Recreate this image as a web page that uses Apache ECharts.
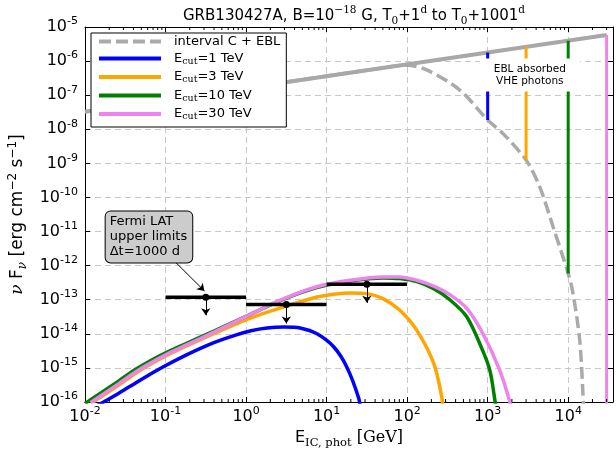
<!DOCTYPE html>
<html>
<head>
<meta charset="utf-8">
<script src="https://cdn.jsdelivr.net/npm/echarts@6/dist/echarts.min.js"></script>
<style>
html, body { margin: 0; padding: 0; background: #fff; }
#chart { width: 616px; height: 449px; }
</style>
</head>
<body>
<div id="chart"></div>
<script>
// intrinsic spectrum (no EBL), grey solid
var intrinsicE = [0.01, 30000];
var intrinsicF = [3.26e-8, 5.83e-6];

// interval C + EBL, grey dashed
var eblE = [0.01, 1, 50, 100, 175, 452, 1000, 1585, 3000, 4436, 6486, 10000, 11482, 13900, 15240, 15600];
var eblF = [3.26e-8, 1.62e-7, 6.3e-7, 7.6e-7, 5.5e-7, 1.41e-7, 1.86e-8, 7.1e-9, 1.245e-9, 2.04e-10, 1.38e-11, 5.9e-13, 1.51e-13, 6.5e-15, 1.78e-16, 5e-17];

// cascade spectra for each cut-off energy
var blueE = [0.0141, 0.0263, 0.0425, 0.0684, 0.102, 0.177, 0.398, 0.708, 1.15, 1.82, 2.95, 4.68, 7.59, 12.3, 17.8, 25.1, 26.3];
var blueF = [7.8e-17, 1.82e-16, 3.63e-16, 7.1e-16, 1.2e-15, 2.34e-15, 5.5e-15, 8.9e-15, 1.23e-14, 1.48e-14, 1.58e-14, 1.48e-14, 1.0e-14, 4.1e-15, 1.07e-15, 1.26e-16, 5e-17];

var orangeE = [0.0126, 0.0263, 0.0425, 0.0684, 0.102, 0.177, 0.398, 1.15, 2.95, 7.59, 12.3, 19.5, 31.6, 50.1, 81.3, 132, 214, 269, 282];
var orangeF = [1e-16, 3.16e-16, 7.0e-16, 1.38e-15, 2.29e-15, 4.27e-15, 1.02e-14, 2.95e-14, 6.17e-14, 1.2e-13, 1.45e-13, 1.58e-13, 1.51e-13, 1.08e-13, 4.9e-14, 1.26e-14, 1.35e-15, 1.41e-16, 5e-17];

var greenE = [0.01, 0.0263, 0.0425, 0.0684, 0.102, 0.177, 0.398, 1.15, 2.95, 7.59, 19.5, 50.1, 81.3, 132, 214, 339, 550, 871, 1072, 1230, 1290];
var greenF = [9.1e-17, 4.17e-16, 9.1e-16, 1.74e-15, 2.82e-15, 5.1e-15, 1.2e-14, 3.8e-14, 1.05e-13, 2.29e-13, 3.55e-13, 4.37e-13, 4.17e-13, 3.39e-13, 2.09e-13, 1.0e-13, 3.16e-14, 3.16e-15, 7.9e-16, 1.12e-16, 5e-17];

var violetE = [0.0117, 0.0263, 0.0425, 0.0684, 0.102, 0.177, 0.398, 1.15, 2.95, 7.59, 19.5, 50.1, 81.3, 132, 214, 339, 550, 871, 1413, 1862, 2000];
var violetF = [9.5e-17, 3.47e-16, 7.6e-16, 1.48e-15, 2.45e-15, 4.57e-15, 1.12e-14, 3.8e-14, 1.07e-13, 2.4e-13, 3.72e-13, 4.68e-13, 4.68e-13, 3.72e-13, 2.5e-13, 1.41e-13, 5.6e-14, 1.02e-14, 8.5e-16, 1.12e-16, 5e-17];

// EBL absorbed parts at each cut-off
var cutE = [1000, 3000, 10000, 30000];
var cutTop = [1.79e-6, 2.61e-6, 3.98e-6, 5.83e-6];
var cutBottom = [1.86e-8, 1.245e-9, 5.9e-13, 1e-17];

// Fermi LAT upper limits
var ulE = [0.316, 3.16, 31.6];
var ulLo = [0.1, 1, 10];
var ulHi = [1, 10, 100];
var ulF = [1.18e-13, 7.2e-14, 2.85e-13];
var ulArrow = [3.5e-14, 2.0e-14, 8.1e-14];

// annotations
var fermiText = [0.01805, 6.97e-12];
var fermiArrow = [[0.133, 1.26e-12], [0.304, 1.81e-13]];
var eblText = [3340, 3.9e-7];

var curveNames = ['Ecut=1 TeV', 'Ecut=3 TeV', 'Ecut=10 TeV', 'Ecut=30 TeV'];
var curveColors = ['#0000ff', '#ffa500', '#008000', '#ee82ee'];

// axis range
var xMin = 0.01, xMax = 36000, yMin = 1e-16, yMax = 1e-5;

function zip(a, b) {
    var out = [];
    for (var i = 0; i < a.length; i++) out.push([a[i], b[i]]);
    return out;
}

// minor ticks 2..9 of every decade on the energy axis
var minorTicks = [];
for (var d = -2; d <= 4; d++) {
    for (var m = 2; m <= 9; m++) {
        var t = m * Math.pow(10, d);
        if (t < xMax) minorTicks.push([t]);
    }
}

var sans = 'DejaVu Sans';
var serif = 'DejaVu Serif';

// legend line icons
var solidIcon = 'path://M0,0h62v4h-62z';
var dashIcon = 'path://M0,0h12v4h-12zM17,0h12v4h-12zM34,0h12v4h-12zM51,0h11v4h-11z';

// 10^n tick labels
function logLabel(v) {
    var e = Math.log10(v), n = Math.round(e);
    if (Math.abs(e - n) > 1e-6) return '';
    return '{b|10}{s|' + n + '}';
}
var tickRich = {
    b: { fontFamily: sans, fontSize: 16, lineHeight: 22, color: '#000' },
    s: { fontFamily: sans, fontSize: 11, lineHeight: 12, verticalAlign: 'top', color: '#000' }
};

var myChart = echarts.init(document.getElementById('chart'));

var series = [];
series.push({
    name: 'interval C + EBL', type: 'line', data: zip(eblE, eblF), smooth: 0.3,
    symbol: 'none', z: 2,
    itemStyle: { color: '#aaaaaa' },
    lineStyle: { color: '#aaaaaa', width: 3.5, type: [12, 5] }
});
series.push({
    name: 'intrinsic', type: 'line', data: zip(intrinsicE, intrinsicF),
    symbol: 'none', z: 3,
    lineStyle: { color: '#a8a8a8', width: 4 }
});
var curvesE = [blueE, orangeE, greenE, violetE];
var curvesF = [blueF, orangeF, greenF, violetF];
for (var i = 0; i < 4; i++) {
    series.push({
        name: curveNames[i], type: 'line', data: zip(curvesE[i], curvesF[i]),
        smooth: 0.3,
        symbol: 'none', z: 3,
        itemStyle: { color: curveColors[i] },
        lineStyle: { color: curveColors[i], width: 3.5 }
    });
    series.push({
        name: 'cut' + i, type: 'line', data: [[cutE[i], cutTop[i]], [cutE[i], cutBottom[i]]],
        symbol: 'none', z: 3,
        lineStyle: { color: curveColors[i], width: 3 }
    });
}
for (var j = 0; j < ulE.length; j++) {
    series.push({
        name: 'ul' + j, type: 'line', data: [[ulLo[j], ulF[j]], [ulHi[j], ulF[j]]],
        symbol: 'none', z: 5,
        lineStyle: { color: '#000', width: 3.5 }
    });
}
var ulArrows = [];
for (var k = 0; k < ulE.length; k++) {
    ulArrows.push([{ coord: [ulE[k], ulF[k]] }, { coord: [ulE[k], ulArrow[k]] }]);
}
series.push({
    name: 'ulpts', type: 'scatter', data: zip(ulE, ulF), symbolSize: 7, z: 6,
    itemStyle: { color: '#000', opacity: 1 },
    markLine: {
        silent: true, symbol: ['none', 'arrow'], symbolSize: 7,
        label: { show: false },
        lineStyle: { color: '#000', width: 1, type: 'solid' },
        data: ulArrows
    }
});
series.push({
    name: 'fermiNote', type: 'scatter', data: [fermiText], symbolSize: 0, z: 8, silent: true,
    itemStyle: { opacity: 1 },
    label: {
        show: true, position: 'inside', align: 'left', verticalAlign: 'middle',
        formatter: 'Fermi LAT\nupper limits\n\u0394t=1000 d',
        fontFamily: sans, fontSize: 13, lineHeight: 15, color: '#000',
        backgroundColor: '#cccccc', borderColor: '#000', borderWidth: 1, borderRadius: 5,
        padding: [3, 5, 3, 4]
    },
    markLine: {
        silent: true, symbol: ['none', 'arrow'], symbolSize: 7,
        label: { show: false },
        lineStyle: { color: '#000', width: 1, type: 'solid' },
        data: [[{ coord: fermiArrow[0] }, { coord: fermiArrow[1] }]]
    }
});
series.push({
    name: 'eblNote', type: 'scatter', data: [eblText], symbolSize: 0, z: 8, silent: true,
    itemStyle: { opacity: 1 },
    label: {
        show: true, position: 'inside', align: 'center', verticalAlign: 'middle',
        formatter: 'EBL absorbed\nVHE photons',
        fontFamily: sans, fontSize: 10.5, lineHeight: 12.5, color: '#000',
        backgroundColor: '#fff', padding: [4, 14]
    }
});
// minor ticks, bottom and top edge
series.push({
    name: 'minor', type: 'custom', data: minorTicks, z: 9, silent: true, clip: false,
    renderItem: function (params, api) {
        var b = api.coord([api.value(0), yMin]);
        var t = api.coord([api.value(0), yMax]);
        var st = { stroke: '#000', lineWidth: 1 };
        return {
            type: 'group',
            children: [
                { type: 'line', shape: { x1: b[0], y1: b[1], x2: b[0], y2: b[1] - 3 }, style: st },
                { type: 'line', shape: { x1: t[0], y1: t[1], x2: t[0], y2: t[1] + 3 }, style: st }
            ]
        };
    }
});

function axisBase(pos, min, max, labels, grid) {
    return {
        type: 'log', logBase: 10, min: min, max: max, position: pos,
        interval: 1,
        axisLine: { show: true, lineStyle: { color: '#000', width: 1 } },
        axisTick: { show: true, inside: true, length: 5, lineStyle: { color: '#000' } },
        axisLabel: {
            show: labels, formatter: logLabel, rich: tickRich,
            margin: pos === 'left' ? 7 : 4
        },
        splitLine: { show: grid, lineStyle: { color: '#c8c8c8', width: 1, type: [6, 4] } }
    };
}

var xMain = axisBase('bottom', xMin, xMax, true, true);
xMain.name = '{e|E}{sub|IC, phot}{u| [GeV]}';
xMain.nameLocation = 'middle';
xMain.nameGap = 24;
xMain.nameTextStyle = {
    rich: {
        e: { fontFamily: sans, fontSize: 16, lineHeight: 22, color: '#000' },
        sub: { fontFamily: serif, fontSize: 11.5, lineHeight: 14, verticalAlign: 'bottom', color: '#000' },
        u: { fontFamily: serif, fontSize: 16, lineHeight: 22, color: '#000' }
    }
};
var yMain = axisBase('left', yMin, yMax, true, true);
yMain.name = '{n|\u03bd}{t| F}{sub|\u03bd}{t| [erg cm}{sup|\u22122}{t| s}{sup|\u22121}{t|]}';
yMain.nameLocation = 'middle';
yMain.nameRotate = 90;
yMain.nameGap = 52;
yMain.nameTextStyle = {
    rich: {
        n: { fontFamily: serif, fontStyle: 'italic', fontSize: 17, lineHeight: 22, color: '#000' },
        t: { fontFamily: sans, fontSize: 17, lineHeight: 22, color: '#000' },
        sub: { fontFamily: serif, fontStyle: 'italic', fontSize: 12, lineHeight: 14, verticalAlign: 'bottom', color: '#000' },
        sup: { fontFamily: sans, fontSize: 12, lineHeight: 12, verticalAlign: 'top', color: '#000' }
    }
};

var option = {
    animation: false,
    backgroundColor: '#fff',
    title: {
        text: '{t|GRB130427A, B=10}{sup|\u221218}{t| G, T}{sub|0}{t|+1}{sup|d}{t| to T}{sub|0}{t|+1001}{sup|d}',
        left: 349, top: 0, textAlign: 'center',
        textStyle: {
            fontWeight: 'normal',
            rich: {
                t: { fontFamily: sans, fontWeight: 'normal', fontSize: 15, lineHeight: 22, color: '#000' },
                sup: { fontFamily: serif, fontWeight: 'normal', fontSize: 10.5, lineHeight: 11, verticalAlign: 'top', color: '#000' },
                sub: { fontFamily: serif, fontWeight: 'normal', fontSize: 10.5, lineHeight: 14, verticalAlign: 'bottom', color: '#000' }
            }
        }
    },
    legend: {
        data: [{ name: 'interval C + EBL', icon: dashIcon }].concat(curveNames.map(function (n) {
            return { name: n, icon: solidIcon };
        })),
        orient: 'vertical', left: 91, top: 33, z: 10,
        backgroundColor: '#fff', borderColor: '#000', borderWidth: 1, borderRadius: 0,
        padding: [2, 6, 5, 8], itemGap: 4, itemWidth: 62, itemHeight: 4,
        formatter: function (name) {
            if (name.indexOf('Ecut') === 0) return '{t|E}{sub|cut}{t|' + name.slice(4) + '}';
            return '{t|' + name + '}';
        },
        textStyle: {
            padding: [0, 0, 0, 8],
            rich: {
                t: { fontFamily: sans, fontSize: 13, lineHeight: 16, color: '#000' },
                sub: { fontFamily: serif, fontSize: 9.5, lineHeight: 10, verticalAlign: 'bottom', color: '#000' }
            }
        }
    },
    grid: { left: 85, right: 3, top: 27, bottom: 47, containLabel: false, outerBoundsMode: 'none' },
    xAxis: [xMain, axisBase('top', xMin, xMax, false, false)],
    yAxis: [yMain, axisBase('right', yMin, yMax, false, false)],
    series: series
};

myChart.setOption(option);
</script>
</body>
</html>
